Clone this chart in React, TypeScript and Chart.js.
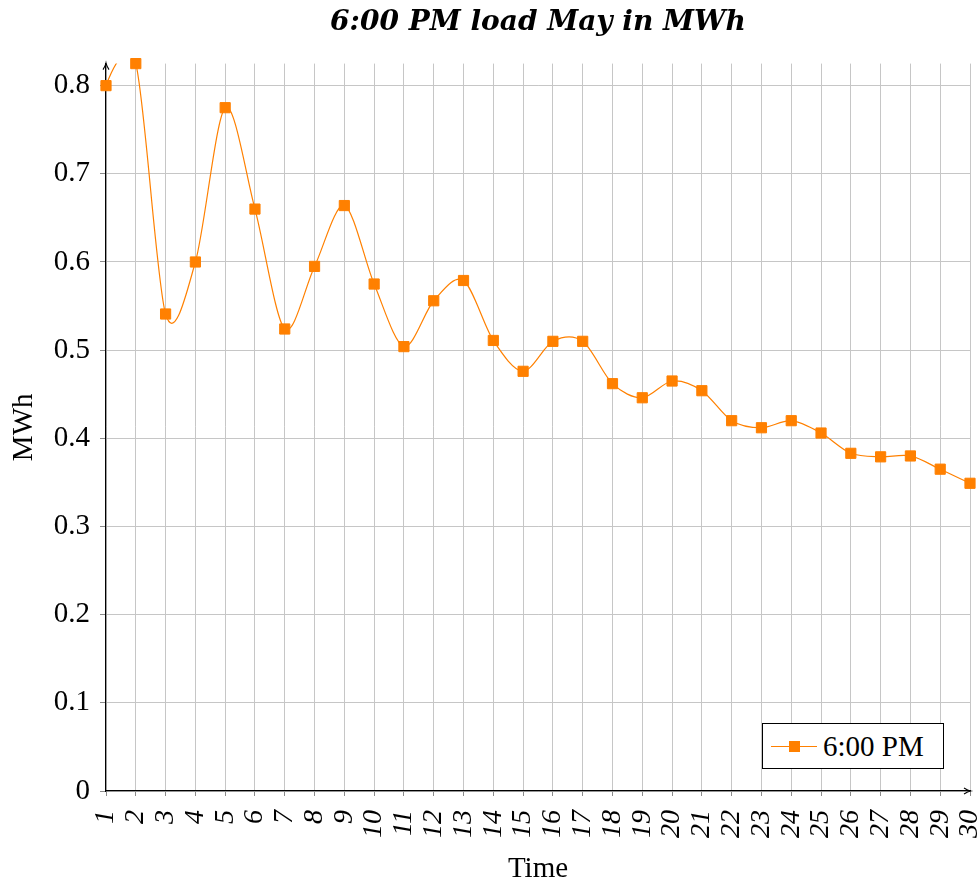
import React, { useEffect, useRef } from "react";
import { Chart, registerables } from "chart.js";

Chart.register(...registerables);

const titleText = "6:00 PM load May in MWh";
const seriesName = "6:00 PM";
const xTitle = "Time";
const yTitle = "MWh";
const days = [1, 2, 3, 4, 5, 6, 7, 8, 9, 10, 11, 12, 13, 14, 15, 16, 17, 18, 19, 20, 21, 22, 23, 24, 25, 26, 27, 28, 29, 30];
const loadValues = [
  0.8, 0.825, 0.541, 0.6, 0.775, 0.66, 0.524, 0.595, 0.664, 0.575,
  0.504, 0.556, 0.579, 0.511, 0.476, 0.51, 0.51, 0.462, 0.446, 0.465,
  0.454, 0.42, 0.412, 0.42, 0.406, 0.383, 0.379, 0.38, 0.365, 0.349,
];
const yStep = 0.1;

const ORANGE = "#ff8000";
const SERIF = "'Liberation Serif', 'Times New Roman', serif";
// TikZ "smooth" plot tension (0.55) expressed as control-point factor
const SMOOTH_FACTOR = 0.2775 * 0.55;

const arrowPlugin = {
  id: "axisArrows",
  afterDraw(chart: any) {
    const { ctx, chartArea } = chart;
    const { left, top, right, bottom } = chartArea;
    ctx.save();
    ctx.strokeStyle = "#000";
    ctx.lineWidth = 1.1;
    ctx.beginPath();
    ctx.moveTo(left - 3, top + 6);
    ctx.quadraticCurveTo(left - 0.5, top + 2, left, top - 0.5);
    ctx.quadraticCurveTo(left + 0.5, top + 2, left + 3, top + 6);
    ctx.moveTo(right - 6, bottom - 3);
    ctx.quadraticCurveTo(right - 2, bottom - 0.5, right + 0.5, bottom);
    ctx.quadraticCurveTo(right - 2, bottom + 0.5, right - 6, bottom + 3);
    ctx.stroke();
    ctx.restore();
  },
};

// Recompute bezier control points the way TikZ "smooth" does (no distance weighting)
const smoothPlugin = {
  id: "tikzSmooth",
  beforeDatasetsDraw(chart: any) {
    chart.data.datasets.forEach((ds: any, di: number) => {
      if (!ds.tikzSmooth) return;
      const meta = chart.getDatasetMeta(di);
      const pts = meta.data;
      const n = pts.length;
      for (let i = 0; i < n; i++) {
        const p = pts[i];
        if (i === 0 || i === n - 1) {
          p.cp1x = p.x; p.cp1y = p.y; p.cp2x = p.x; p.cp2y = p.y;
          continue;
        }
        const a = pts[i - 1];
        const b = pts[i + 1];
        const dx = (b.x - a.x) * SMOOTH_FACTOR;
        const dy = (b.y - a.y) * SMOOTH_FACTOR;
        p.cp1x = p.x - dx; p.cp1y = p.y - dy;
        p.cp2x = p.x + dx; p.cp2y = p.y + dy;
      }
      if (meta.dataset) {
        meta.dataset._pointsUpdated = true;
        meta.dataset._path = undefined;
      }
    });
  },
};

export default function App() {
  const canvasRef = useRef<HTMLCanvasElement | null>(null);

  useEffect(() => {
    const canvas = canvasRef.current;
    if (!canvas) return;
    const labels = days.map(String);
    const chart = new Chart(canvas, {
      type: "line",
      data: {
        labels,
        datasets: [
          {
            label: seriesName,
            data: loadValues,
            showLine: false,
            pointStyle: "rect",
            pointRadius: 7.2,
            pointBackgroundColor: ORANGE,
            pointBorderColor: ORANGE,
            pointBorderWidth: 1,
            clip: false as any,
            order: 0,
          },
          {
            label: seriesName + " line",
            data: loadValues,
            borderColor: ORANGE,
            borderWidth: 1.2,
            tension: 0.4,
            capBezierPoints: false,
            pointRadius: 0,
            fill: false,
            order: 1,
            tikzSmooth: true,
          } as any,
        ],
      },
      options: {
        responsive: false,
        animation: false,
        devicePixelRatio: 1,
        layout: { padding: { left: 0, right: 8, top: 0, bottom: 0 }, autoPadding: false } as any,
        plugins: {
          legend: { display: false },
          tooltip: { enabled: false },
          title: {
            display: true,
            text: titleText,
            fullSize: false,
            color: "#000",
            font: { family: "'DejaVu Serif', serif", size: 28, weight: "bold", style: "italic", lineHeight: 1.2 },
            padding: { top: 6, bottom: 24 },
          },
        },
        scales: {
          x: {
            type: "category",
            offset: false,
            grid: { color: "#c6c6c6", lineWidth: 1, offset: false, tickLength: 5, tickColor: "#8a8a8a" },
            border: { color: "#000", width: 1.2 },
            ticks: {
              autoSkip: false,
              maxRotation: 90,
              minRotation: 90,
              padding: 14,
              color: "#000",
              font: { family: SERIF, size: 28, style: "italic" },
            },
            title: {
              display: true,
              text: xTitle,
              color: "#000",
              font: { family: SERIF, size: 29, lineHeight: 1.0 },
              padding: { top: 0, bottom: 0 },
            },
            afterFit: (scale: any) => {
              scale.height = 93;
              scale.paddingLeft = 0;
              scale.paddingRight = 0;
            },
          },
          y: {
            type: "linear",
            min: 0,
            max: Math.max(...loadValues),
            grid: { color: "#c6c6c6", lineWidth: 1, tickLength: 6, tickColor: "#8a8a8a" },
            border: { color: "#000", width: 1.2 },
            ticks: {
              stepSize: yStep,
              includeBounds: false,
              padding: 10,
              color: "#000",
              font: { family: SERIF, size: 29 },
            } as any,
            title: {
              display: true,
              text: yTitle,
              color: "#000",
              font: { family: SERIF, size: 29, lineHeight: 1.2 },
              padding: { top: 7, bottom: 0 },
            },
            afterFit: (scale: any) => {
              scale.width = 106;
              scale.paddingTop = 0;
              scale.paddingBottom = 0;
            },
          },
        },
      },
      plugins: [smoothPlugin, arrowPlugin],
    });
    return () => chart.destroy();
  }, []);

  return (
    <div style={{ position: "absolute", left: 0, top: 0, width: 978, height: 884, background: "#fff" }}>
      <canvas ref={canvasRef} width={978} height={884} style={{ width: 978, height: 884, display: "block" }} />
      <div
        style={{
          position: "absolute",
          left: 762,
          top: 723,
          width: 182,
          height: 46,
          boxSizing: "border-box",
          border: "1px solid #000",
          background: "#fff",
          fontFamily: SERIF,
        }}
      >
        <div style={{ position: "absolute", left: 8, top: 21.5, width: 46, height: 1.2, background: ORANGE }} />
        <div style={{ position: "absolute", left: 26, top: 17, width: 11, height: 11, background: ORANGE }} />
        <div style={{ position: "absolute", left: 60, top: 0, height: 44, lineHeight: "44px", fontSize: 29, color: "#000", whiteSpace: "nowrap" }}>
          {seriesName}
        </div>
      </div>
    </div>
  );
}
